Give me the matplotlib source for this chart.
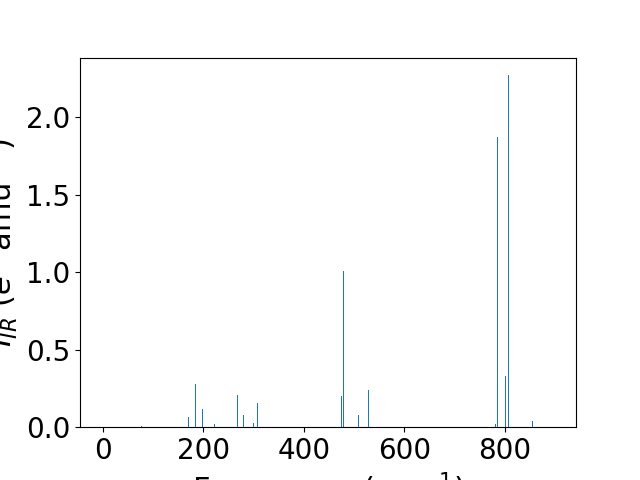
import matplotlib.pyplot as plt

plt.rcParams['font.size'] = 20

# frequencies (cm^-1) and IR intensities
freqs = [0, 76, 171, 185, 199, 221, 267, 279, 300, 308,
         474, 478, 509, 529, 782, 786, 802, 808, 856, 896]
intensities = [0.0, 0.005, 0.065, 0.28, 0.115, 0.02, 0.205, 0.078, 0.03, 0.155,
               0.2, 1.01, 0.08, 0.24, 0.02, 1.87, 0.33, 2.27, 0.04, 0.0]

fig, ax = plt.subplots(figsize=(6.4, 4.8), dpi=100)
ax.bar(freqs, intensities, width=2)

ax.set_xlabel("Frequency (cm$^{-1}$)", fontsize=22)
ax.set_ylabel("$I_{IR}$ ($e^2$ amu$^{-1}$)", fontsize=22)

fig.savefig("out.png")
